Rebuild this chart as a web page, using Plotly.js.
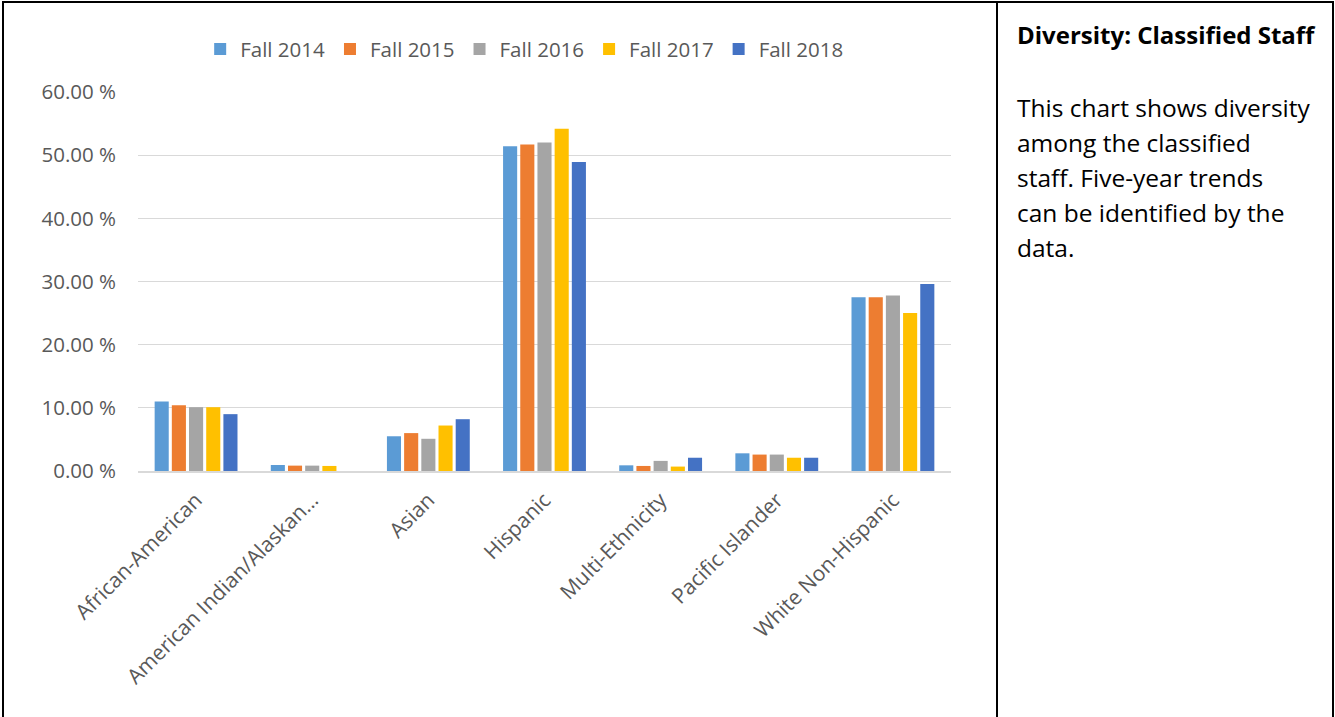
<!DOCTYPE html>
<html>
<head>
<meta charset="utf-8">
<script src="https://cdn.plot.ly/plotly-3.0.1.min.js"></script>
<style>
  html, body { margin: 0; padding: 0; background: #fff; }
  #frame { position: absolute; left: 0; top: 0; width: 1335px; height: 717px; overflow: hidden; }
  #chart { position: absolute; left: 0; top: 0; width: 997px; height: 717px; }
  .bt { position: absolute; background: #000; }
  #side { position: absolute; left: 1017px; top: 20px; width: 316px; font-family: "Open Sans", sans-serif; color: #000; white-space: nowrap; }
  #side h1 { font-size: 24px; font-weight: bold; margin: 0; line-height: 30px; }
  #side p { font-size: 24.5px; margin: 39.5px 0 0 0; line-height: 35px; }
</style>
</head>
<body>
<div id="frame">
  <div id="chart"></div>
  <div class="bt" style="left:2px; top:1px; width:1332px; height:2px;"></div>
  <div class="bt" style="left:2px; top:1px; width:2px; height:716px;"></div>
  <div class="bt" style="left:996px; top:1px; width:2px; height:716px;"></div>
  <div class="bt" style="left:1332px; top:1px; width:2px; height:716px;"></div>
  <div id="side">
    <h1>Diversity: Classified Staff</h1>
    <p>This chart shows diversity<br>among the classified<br>staff. Five-year trends<br>can be identified by the<br>data.</p>
  </div>
</div>
<script>
const categories = ["African-American", "American Indian/Alaskan…", "Asian", "Hispanic", "Multi-Ethnicity", "Pacific Islander", "White Non-Hispanic"];
const seriesNames = ["Fall 2014", "Fall 2015", "Fall 2016", "Fall 2017", "Fall 2018"];
const fall2014 = [11.0, 0.95, 5.5, 51.4, 0.9, 2.8, 27.5];
const fall2015 = [10.4, 0.85, 6.0, 51.7, 0.8, 2.6, 27.5];
const fall2016 = [10.1, 0.85, 5.1, 52.0, 1.6, 2.6, 27.8];
const fall2017 = [10.1, 0.8, 7.2, 54.2, 0.7, 2.1, 25.0];
const fall2018 = [9.0, 0.0, 8.2, 48.9, 2.1, 2.1, 29.6];
const yTickValues = [0, 10, 20, 30, 40, 50, 60];
const yTickLabels = ["0.00 %", "10.00 %", "20.00 %", "30.00 %", "40.00 %", "50.00 %", "60.00 %"];
const colors = ["#5B9BD5", "#ED7D31", "#A5A5A5", "#FFC000", "#4472C4"];

const allSeries = [fall2014, fall2015, fall2016, fall2017, fall2018];
const traces = allSeries.map((vals, i) => ({
  type: "bar",
  name: seriesNames[i],
  x: categories,
  y: vals,
  marker: { color: colors[i], line: { width: 0 } },
  hoverinfo: "x+y+name"
}));

const fontFam = "'Open Sans', sans-serif";
const layout = {
  width: 997, height: 717,
  margin: { l: 138, r: 46, t: 92, b: 246 },
  paper_bgcolor: "rgba(0,0,0,0)",
  plot_bgcolor: "#fff",
  barmode: "group",
  bargap: 0.26,
  bargroupgap: 0.18,
  showlegend: true,
  legend: {
    orientation: "h", x: 0.475, xanchor: "center", y: 1.113, yanchor: "middle",
    font: { family: fontFam, size: 20.5, color: "#595959" },
    itemwidth: 30, traceorder: "normal"
  },
  xaxis: {
    type: "category",
    tickangle: -45,
    tickfont: { family: fontFam, size: 21, color: "#595959" },
    showgrid: false,
    showline: true, linecolor: "#D9D9D9", linewidth: 1.5,
    ticks: "", zeroline: false,
    ticklabelstandoff: 7
  },
  yaxis: {
    range: [0, 60],
    tickmode: "array",
    tickvals: yTickValues,
    ticktext: yTickLabels,
    tickfont: { family: fontFam, size: 20.5, color: "#595959" },
    showgrid: true, gridcolor: "#D9D9D9", gridwidth: 1,
    zeroline: false, showline: false, ticks: "",
    ticklabelstandoff: 21
  },
  font: { family: fontFam, color: "#595959" }
};

Plotly.newPlot("chart", traces, layout, { displayModeBar: false, staticPlot: true });
</script>
</body>
</html>
